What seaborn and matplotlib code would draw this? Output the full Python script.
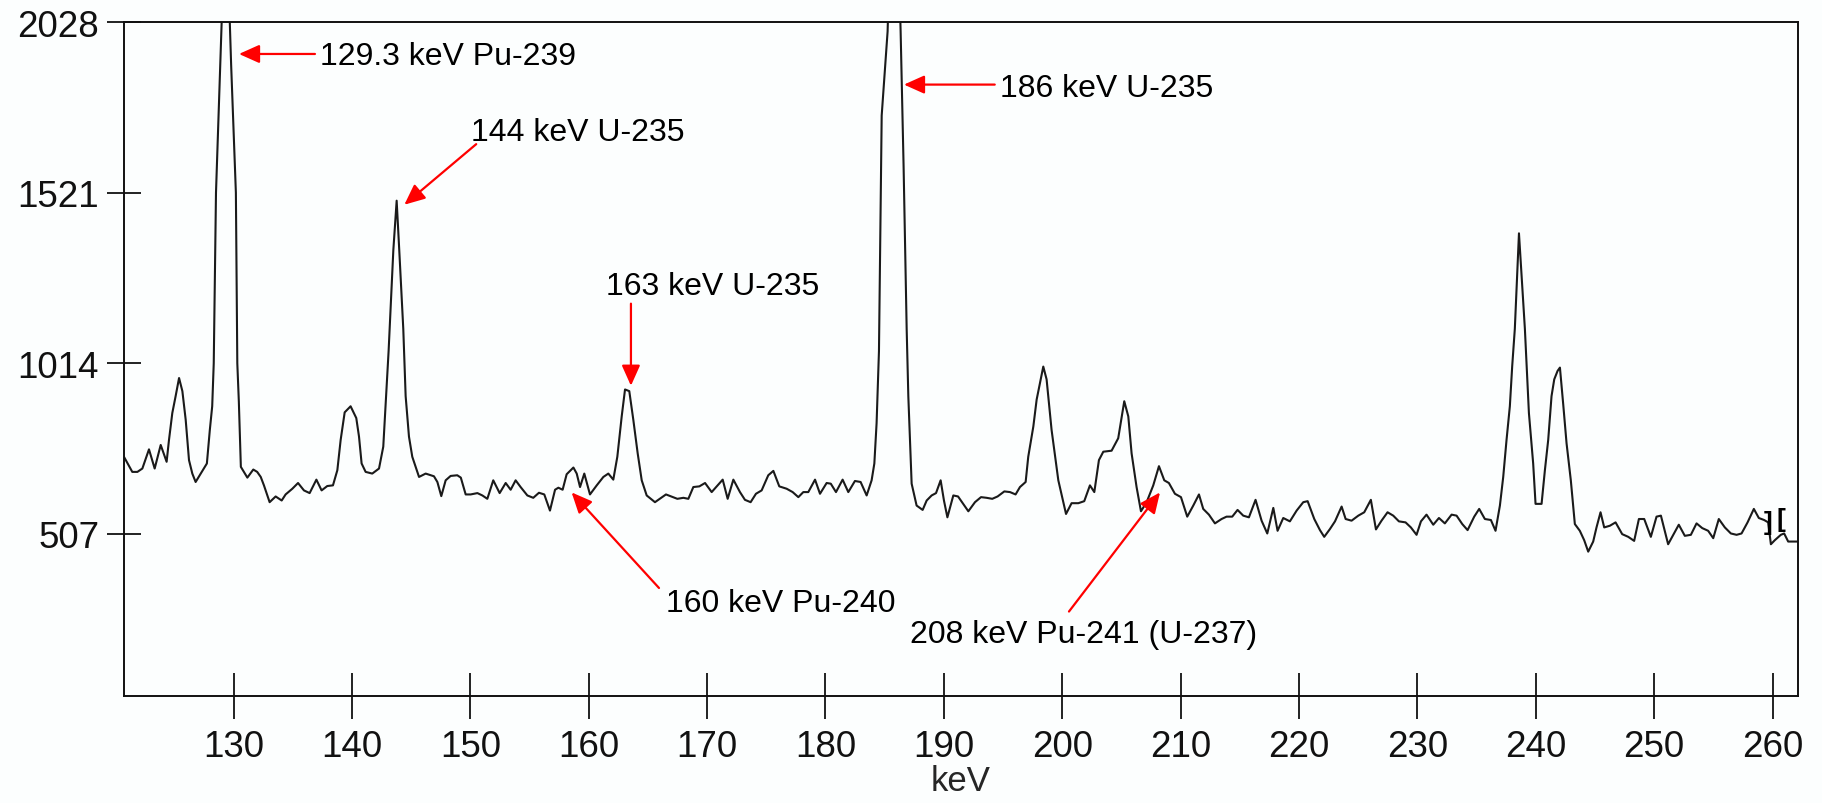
import matplotlib
matplotlib.use("Agg")
import matplotlib.pyplot as plt
import seaborn as sns
import pandas as pd

# Gamma-ray spectrum (counts per channel) read out as energy / counts pairs
energy_kev = [
    120.76, 121.45, 121.88, 122.30, 122.86, 123.34, 123.85, 124.35, 124.55, 124.83,
    125.11, 125.40, 125.68, 125.96, 126.24, 126.52, 126.80, 127.23, 127.75, 128.00,
    128.20, 128.33, 128.52, 128.88, 129.35, 129.80, 130.20, 130.32, 130.45, 130.62,
    131.17, 131.67, 132.00, 132.30, 132.57, 133.05, 133.56, 134.07, 134.40, 134.97,
    135.45, 135.95, 136.43, 137.00, 137.44, 137.92, 138.40, 138.77, 139.05, 139.39,
    139.89, 140.37, 140.60, 140.82, 141.16, 141.72, 142.29, 142.65, 143.10, 143.50,
    143.78, 144.00, 144.34, 144.54, 144.82, 145.10, 145.67, 146.23, 146.93, 147.22,
    147.55, 147.92, 148.34, 148.90, 149.20, 149.61, 150.03, 150.60, 151.02, 151.44,
    151.94, 152.48, 152.99, 153.41, 153.83, 154.25, 154.82, 155.32, 155.80, 156.25,
    156.73, 157.16, 157.44, 157.80, 158.14, 158.71, 158.99, 159.27, 159.63, 160.11,
    160.68, 161.24, 161.66, 162.08, 162.42, 162.79, 163.07, 163.43, 163.77, 164.14,
    164.48, 164.90, 165.60, 166.53, 167.49, 168.00, 168.42, 168.84, 169.35, 169.83,
    170.39, 171.32, 171.74, 172.22, 172.78, 173.20, 173.68, 174.13, 174.61, 175.17,
    175.60, 176.10, 176.72, 177.23, 177.71, 178.13, 178.55, 179.12, 179.54, 180.10,
    180.45, 180.89, 181.45, 181.93, 182.49, 182.97, 183.48, 183.90, 184.13, 184.32,
    184.52, 184.75, 185.25, 185.80, 186.35, 186.60, 186.86, 187.00, 187.28, 187.70,
    188.21, 188.55, 188.97, 189.34, 189.73, 190.01, 190.30, 190.80, 191.20, 192.07,
    192.63, 193.14, 193.61, 194.09, 194.54, 195.11, 195.59, 196.06, 196.43, 196.91,
    197.13, 197.56, 197.84, 198.40, 198.68, 199.10, 199.67, 200.32, 200.79, 201.36,
    201.86, 202.34, 202.71, 203.10, 203.47, 204.17, 204.73, 205.24, 205.58, 205.86,
    206.28, 206.65, 207.13, 207.69, 208.17, 208.62, 209.01, 209.52, 210.03, 210.56,
    211.07, 211.55, 211.91, 212.39, 212.90, 213.46, 213.88, 214.36, 214.81, 215.29,
    215.77, 216.33, 216.84, 217.32, 217.83, 218.19, 218.67, 219.23, 219.80, 220.36,
    220.73, 221.29, 221.77, 222.13, 222.61, 223.04, 223.60, 223.94, 224.44, 225.01,
    225.51, 226.07, 226.50, 226.97, 227.48, 227.96, 228.44, 229.00, 229.45, 229.93,
    230.30, 230.77, 231.34, 231.82, 232.32, 232.89, 233.31, 233.79, 234.24, 234.80,
    235.22, 235.70, 236.21, 236.60, 236.97, 237.25, 237.53, 237.81, 238.01, 238.23,
    238.58, 239.08, 239.42, 239.78, 239.98, 240.49, 240.77, 241.05, 241.33, 241.56,
    241.84, 242.04, 242.32, 242.60, 242.96, 243.30, 243.72, 244.09, 244.43, 244.85,
    245.13, 245.47, 245.78, 246.26, 246.74, 247.30, 247.81, 248.31, 248.71, 249.16,
    249.72, 250.20, 250.57, 251.18, 251.61, 252.08, 252.59, 253.10, 253.58, 254.06,
    254.56, 254.99, 255.46, 255.97, 256.48, 256.96, 257.38, 257.89, 258.42, 258.84,
    259.29, 259.63, 259.86, 260.19, 260.70, 260.98, 261.32, 262.16,
]
counts = [
    735, 691, 691, 701, 758, 701, 771, 721, 786, 866,
    916, 970, 931, 846, 726, 686, 661, 686, 716, 816,
    886, 1014, 1521, 1900, 2400, 1900, 1521, 1014, 900, 706,
    674, 698, 691, 676, 651, 601, 618, 606, 624, 641,
    658, 636, 628, 668, 636, 649, 651, 696, 786, 868,
    886, 851, 796, 716, 691, 686, 701, 766, 1050, 1350,
    1497, 1350, 1116, 916, 796, 736, 676, 686, 678, 661,
    619, 666, 679, 681, 674, 624, 624, 628, 621, 611,
    666, 628, 658, 638, 666, 646, 621, 614, 629, 624,
    576, 638, 644, 638, 684, 704, 686, 646, 686, 624,
    651, 676, 686, 668, 736, 856, 936, 931, 846, 746,
    666, 621, 601, 624, 611, 614, 611, 646, 648, 658,
    631, 668, 611, 668, 631, 608, 601, 626, 636, 681,
    694, 648, 641, 631, 616, 631, 631, 668, 626, 658,
    656, 631, 668, 631, 664, 661, 621, 666, 716, 836,
    1050, 1750, 2000, 2700, 2000, 1600, 1116, 916, 656, 591,
    578, 606, 621, 628, 666, 606, 556, 621, 618, 574,
    601, 616, 614, 611, 618, 633, 631, 624, 646, 661,
    736, 826, 906, 1004, 966, 816, 666, 566, 598, 598,
    604, 651, 631, 726, 751, 754, 791, 901, 856, 746,
    646, 574, 601, 651, 708, 666, 658, 626, 616, 558,
    591, 624, 581, 564, 538, 551, 558, 558, 578, 561,
    556, 608, 546, 508, 584, 516, 554, 544, 576, 601,
    604, 551, 518, 498, 521, 544, 588, 551, 546, 561,
    571, 608, 520, 546, 571, 561, 544, 541, 526, 504,
    544, 564, 534, 554, 538, 564, 561, 536, 518, 558,
    581, 551, 548, 516, 591, 676, 786, 886, 1006, 1116,
    1400, 1116, 866, 716, 596, 596, 696, 786, 916, 966,
    991, 1001, 891, 776, 666, 536, 516, 488, 454, 484,
    526, 571, 526, 531, 541, 506, 498, 486, 551, 551,
    498, 558, 561, 476, 504, 534, 501, 504, 538, 524,
    516, 494, 551, 526, 508, 504, 508, 541, 581, 554,
    548, 541, 476, 488, 504, 508, 484, 484,
]

x_ticks = [130, 140, 150, 160, 170, 180, 190, 200, 210, 220, 230, 240, 250, 260]
y_ticks = [507, 1014, 1521, 2028]

# Peak labels: text, text anchor (keV, counts), arrow tail, arrow tip
peak_labels = [
    ("129.3 keV Pu-239", (137.31, 1903), (136.88, 1933), (130.46, 1933)),
    ("144 keV U-235", (150.02, 1678), (150.50, 1665), (144.43, 1485)),
    ("163 keV U-235", (161.50, 1220), (163.57, 1191), (163.57, 947)),
    ("186 keV U-235", (194.74, 1809), (194.30, 1842), (186.63, 1842)),
    ("160 keV Pu-240", (166.53, 277), (165.94, 346), (158.56, 630)),
    ("208 keV Pu-241 (U-237)", (187.13, 186), (200.57, 276), (208.26, 630)),
]

sns.set_style("white")
plt.rcParams["font.family"] = ["Liberation Sans", "DejaVu Sans"]

bg = "#fcfefe"
fig = plt.figure(figsize=(18.22, 8.04), dpi=100, facecolor=bg)
ax = fig.add_axes([0.06806, 0.13308, 0.91877, 0.83831])
ax.set_facecolor(bg)

df = pd.DataFrame({"keV": energy_kev, "counts": counts})
sns.lineplot(data=df, x="keV", y="counts", ax=ax, color="#1a1a1a",
             linewidth=1.5, estimator=None, sort=False)

ax.set_xlim(120.75, 262.15)
ax.set_ylim(25, 2028)
ax.set_xticks(x_ticks)
ax.set_yticks(y_ticks)
ax.set_xticklabels([str(t) for t in x_ticks])
ax.set_yticklabels([str(t) for t in y_ticks])
ax.set_ylabel("")
ax.set_xlabel("keV", fontsize=25, labelpad=0)

for side in ["left", "right", "top", "bottom"]:
    ax.spines[side].set_visible(True)
    ax.spines[side].set_color("#111111")
    ax.spines[side].set_linewidth(1.4)

ax.tick_params(axis="y", direction="inout", length=25, width=1.3,
               pad=5.4, labelsize=26.5, colors="#111111", left=True)
ax.tick_params(axis="x", direction="inout", length=33, width=1.3,
               pad=7.6, labelsize=26.5, colors="#111111", bottom=True)

arrow_style = "-|>,head_length=12.5,head_width=5.6"
for text, anchor, tail, tip in peak_labels:
    ax.annotate("", xy=tip, xytext=tail, xycoords="data", textcoords="data",
                arrowprops=dict(arrowstyle=arrow_style, color="#ff0000", lw=1.6,
                                shrinkA=0, shrinkB=0, mutation_scale=1))
    ax.text(anchor[0], anchor[1], text, fontsize=23, ha="left",
            va="baseline", color="black")

# Region-of-interest bracket markers near the end of the spectrum
ax.text(259.66, 541, "]", fontsize=19, fontweight="bold", ha="center",
        va="center", color="black")
ax.text(260.70, 551, "[", fontsize=19, fontweight="bold", ha="center",
        va="center", color="black")

fig.savefig("out.png", dpi=100, facecolor=bg)
